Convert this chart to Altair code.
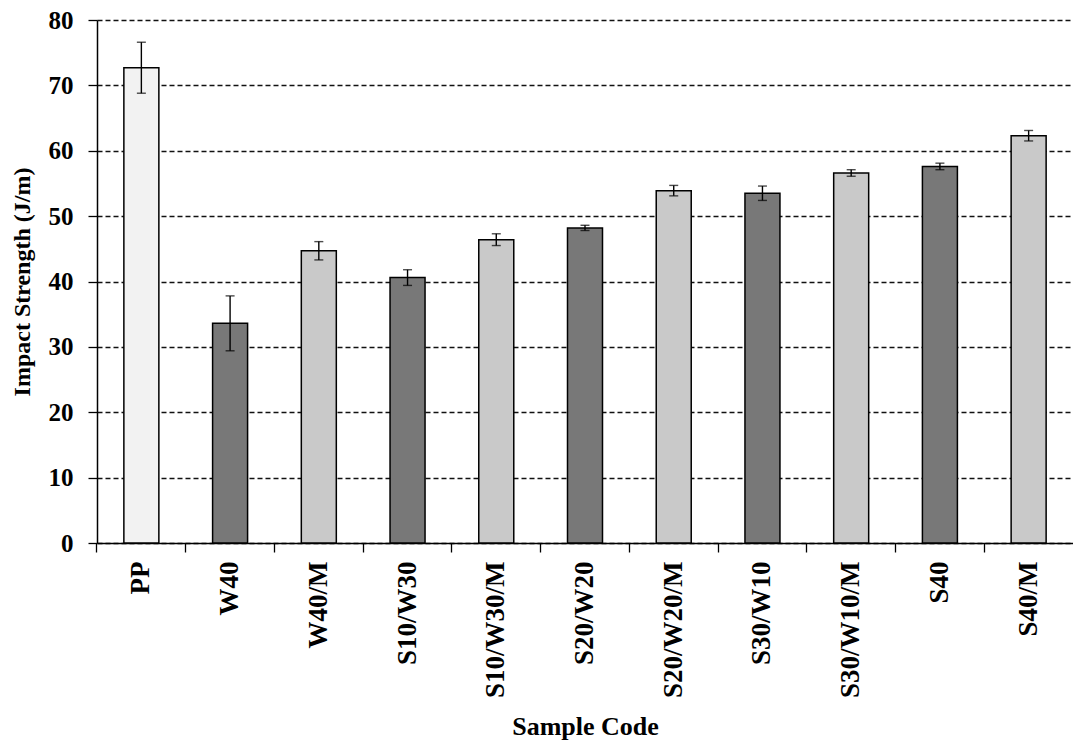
import altair as alt
import pandas as pd

samples = ["PP", "W40", "W40/M", "S10/W30", "S10/W30/M", "S20/W20",
           "S20/W20/M", "S30/W10", "S30/W10/M", "S40", "S40/M"]
strength = [72.7, 33.6, 44.7, 40.6, 46.4, 48.2, 53.9, 53.5, 56.6, 57.6, 62.3]
error = [3.9, 4.2, 1.4, 1.2, 0.9, 0.4, 0.8, 1.1, 0.5, 0.5, 0.8]
kind = ["neat", "unmodified", "modified", "unmodified", "modified", "unmodified",
        "modified", "unmodified", "modified", "unmodified", "modified"]

df = pd.DataFrame({"sample": samples, "strength": strength, "err": error, "kind": kind})
df["lo"] = df["strength"] - df["err"]
df["hi"] = df["strength"] + df["err"]

W, H = 976, 523
FONT = "Liberation Serif"

x_enc = alt.X("sample:N", sort=samples, scale=alt.Scale(paddingInner=0, paddingOuter=0),
              axis=alt.Axis(title="Sample Code", labelAngle=-90, bandPosition=0,
                            labelFont=FONT, labelFontSize=27,
                            labelFontWeight="bold", labelColor="black", labelPadding=9,
                            labelAlign="right", labelBaseline="middle",
                            tickSize=9, tickColor="black", tickWidth=1.3,
                            domainColor="black", domainWidth=1.5, grid=False,
                            titleFont=FONT, titleFontSize=26, titleFontWeight="bold",
                            titleColor="black", titleX=W / 2, titleY=191,
                            titleAnchor="middle", titleBaseline="alphabetic"))

y_scale = alt.Scale(domain=[0, 80], nice=False)

bars = alt.Chart(df).mark_bar(size=35, stroke="black", strokeWidth=1.5).encode(
    x=x_enc,
    y=alt.Y("strength:Q", scale=y_scale,
            axis=alt.Axis(title="Impact Strength (J/m)", values=list(range(0, 81, 10)),
                          labelFont=FONT, labelFontSize=25, labelFontWeight="bold",
                          labelColor="black", labelPadding=15, tickSize=9,
                          tickColor="black", tickWidth=1.3, domainColor="black",
                          domainWidth=1.5, grid=True, gridColor="#111111",
                          gridDash=[5, 3], gridWidth=1.3,
                          titleFont=FONT, titleFontSize=24, titleFontWeight="bold",
                          titleColor="black", titleX=-75, titleY=H / 2,
                          titleAnchor="middle", titleBaseline="middle")),
    color=alt.Color("kind:N", legend=None,
                    scale=alt.Scale(domain=["neat", "unmodified", "modified"],
                                    range=["#f2f2f2", "#787878", "#c9c9c9"])),
)

rules = alt.Chart(df).mark_rule(color="black", strokeWidth=1.4).encode(
    x=alt.X("sample:N", sort=samples),
    y=alt.Y("lo:Q", scale=y_scale),
    y2="hi:Q",
)
cap_hi = alt.Chart(df).mark_tick(orient="horizontal", size=9, thickness=1.4,
                                 color="black").encode(
    x=alt.X("sample:N", sort=samples), y=alt.Y("hi:Q", scale=y_scale))
cap_lo = alt.Chart(df).mark_tick(orient="horizontal", size=9, thickness=1.4,
                                 color="black").encode(
    x=alt.X("sample:N", sort=samples), y=alt.Y("lo:Q", scale=y_scale))

chart = alt.layer(bars, rules, cap_hi, cap_lo).properties(
    width=W, height=H,
    autosize=alt.AutoSizeParams(type="none"),
    padding={"left": 97, "top": 20, "right": 0, "bottom": 199},
    background="white",
).configure_view(stroke=None)

chart.save("out.html", embed_options={"renderer": "svg", "actions": False})
